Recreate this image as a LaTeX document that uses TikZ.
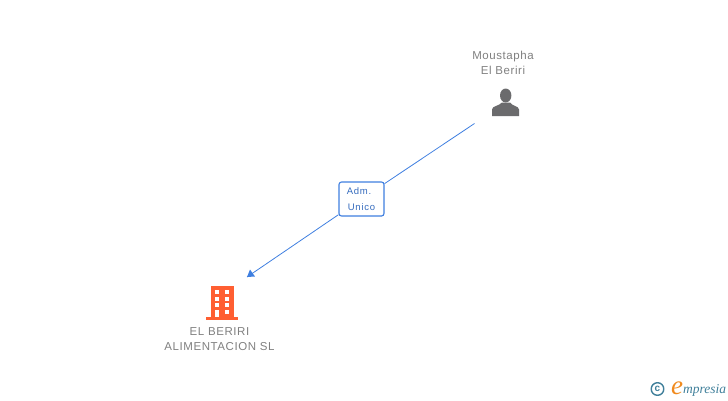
\documentclass[tikz,border=0pt]{standalone}
\usepackage{fontspec}
\setmainfont{Liberation Sans}
\newfontfamily\logofont{Liberation Serif}
\newfontfamily\namefont[LetterSpace=5]{Liberation Sans}
\newfontfamily\rolefont[LetterSpace=8]{Liberation Sans}
\usepackage{tikz}
\definecolor{linkblue}{HTML}{3F7FE0}
\definecolor{labelgrey}{HTML}{808080}
\definecolor{iconorange}{HTML}{FF5F32}
\definecolor{icongrey}{HTML}{6B6B6D}
\definecolor{logoteal}{HTML}{3F7F9A}
\definecolor{logoorange}{HTML}{F08A1E}

\begin{document}
\begin{tikzpicture}[x=1pt, y=-1pt, line join=round,
namelabel/.style={text=labelgrey, font=\namefont\fontsize{11.5}{15}\selectfont, align=center, inner sep=0pt},
rolebox/.style={draw=linkblue, line width=1.1pt, fill=white, rounded corners=2.5pt, minimum width=45pt, minimum height=34pt, inner sep=0pt, align=center, text=linkblue!85!black, font=\rolefont\fontsize{9.5}{15.5}\selectfont},
link/.style={draw=linkblue, line width=0.8pt}]

\useasboundingbox (0,0) rectangle (728,400);

% Names
\node[namelabel] (moustapha) at (503,62.5) {Moustapha\\El Beriri};
\node[namelabel] (beriri) at (219.5,339) {EL BERIRI\\ALIMENTACION SL};

% Person icon
\fill[icongrey] (505.7,95.5) ellipse (5.7pt and 7pt);
\fill[icongrey] (492,116) -- (492,109.5) .. controls (492,106) and (499,106) .. (502,102.5) -- (510,102.5) .. controls (512,106) and (519,106) .. (519,109.5) -- (519,116) -- cycle;

% Building icon
\fill[iconorange] (211,286) rectangle (233.5,317);
\fill[iconorange] (206,317) rectangle (238,319.5);
\foreach \y in {290,296.7,303.3} {
	\fill[white] (214.7,\y) rectangle (219.3,\y+4); % left windows
	\fill[white] (224.7,\y) rectangle (229.3,\y+4); % right windows
}
\fill[white] (224.7,310) rectangle (229.3,314);
\fill[white] (214.7,310) rectangle (219.3,317); % door

% Connector
\coordinate (start) at (474.5,123.5);
\coordinate (end) at (247,277);
\node[rolebox] (role) at (361.5,199) {Adm.\hspace*{5pt}\\Unico};
\draw[link] (start) -- (role);
\draw[link] (role) -- (end);
\fill[linkblue] (end) -- (250,269.5) -- (255,276.5) -- cycle; % arrow head

% Logo
\draw[logoteal, line width=1.4pt] (657.5,389) circle (6.3pt);
\node[text=logoteal, font=\fontsize{10}{10}\selectfont\bfseries, inner sep=0pt] (copy) at (657.5,388.5) {c};
\node[text=logoorange, font=\logofont\itshape\fontsize{27}{27}\selectfont, inner sep=0pt, anchor=base] (elogo) at (677,394) {e};
\node[text=logoteal, font=\logofont\itshape\fontsize{13.5}{13.5}\selectfont, inner sep=0pt, anchor=base west] (mpresia) at (683,393) {mpresia};

\end{tikzpicture}
\end{document}
